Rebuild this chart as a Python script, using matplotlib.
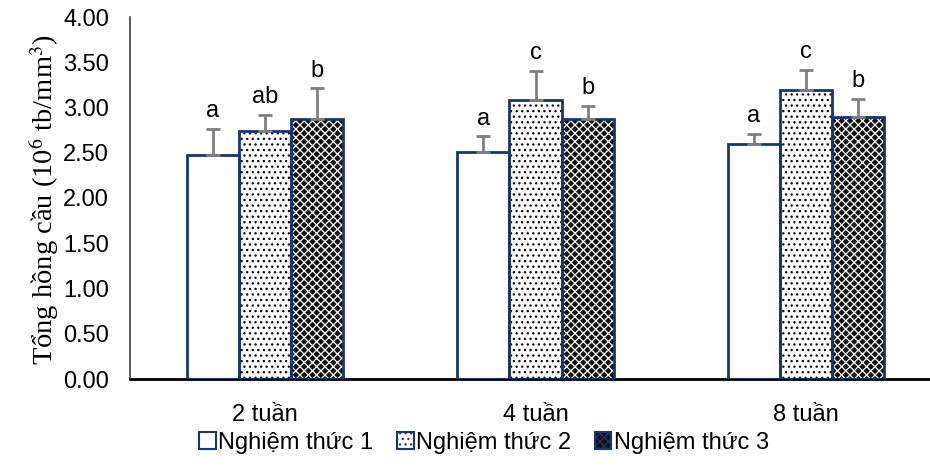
import matplotlib
matplotlib.use("Agg")
import matplotlib.pyplot as plt
import numpy as np
from matplotlib.patches import Patch

plt.rcParams['font.family'] = ['Liberation Sans', 'DejaVu Sans']
plt.rcParams['mathtext.fontset'] = 'stix'

categories = ["2 tuần", "4 tuần", "8 tuần"]
series = ["Nghiệm thức 1", "Nghiệm thức 2", "Nghiệm thức 3"]
means1 = [2.48, 2.51, 2.60]
errs1 = [0.28, 0.17, 0.11]
means2 = [2.74, 3.08, 3.19]
errs2 = [0.18, 0.32, 0.22]
means3 = [2.87, 2.87, 2.90]
errs3 = [0.34, 0.15, 0.19]
letters1 = ["a", "a", "a"]
letters2 = ["ab", "c", "c"]
letters3 = ["b", "b", "b"]
yticks = [0.0, 0.5, 1.0, 1.5, 2.0, 2.5, 3.0, 3.5, 4.0]

navy = "#1B3470"
errc = "#7F7F7F"
fs = 17

fig = plt.figure(figsize=(9.3, 4.7), dpi=100)
ax = fig.add_axes([130/930, (470-379)/470, 811/930, 362/470])

x = np.arange(len(categories))
w = 0.193
styles = [
    dict(face="white", hatch=None, hcol="black"),
    dict(face="white", hatch="...", hcol="black"),
    dict(face="#111111", hatch="xxxx", hcol="white"),
]
data = [(means1, errs1, letters1), (means2, errs2, letters2), (means3, errs3, letters3)]
plt.rcParams['hatch.linewidth'] = 0.9
handles = []
for i, ((m, e, lab), st) in enumerate(zip(data, styles)):
    pos = x + (i - 1) * w
    ax.bar(pos, m, width=w, color=st["face"], edgecolor=st["hcol"], linewidth=0,
           hatch=st["hatch"], zorder=2)
    ax.bar(pos, m, width=w, facecolor="none", edgecolor=navy, linewidth=2, zorder=3)
    ax.errorbar(pos, m, yerr=[np.zeros(len(e)), e], fmt="none", ecolor=errc,
                elinewidth=2, capsize=5, capthick=2, zorder=4)
    for p, mv, ev, t in zip(pos, m, e, lab):
        ax.annotate(t, (p, mv + ev), xytext=(0, 5), textcoords="offset points",
                    ha="center", va="bottom", fontsize=fs, color="black")
    handles.append(Patch(facecolor=st["face"], edgecolor=navy, hatch=st["hatch"],
                         linewidth=1.5, label=series[i]))

ax.set_xlim(-0.5, 2.5)
ax.set_ylim(0, 4.0)
ax.set_yticks(yticks)
ax.set_yticklabels([f"{v:.2f}" for v in yticks])
ax.set_xticks(x)
ax.set_xticklabels(categories)
ax.tick_params(axis="both", length=0, labelsize=fs)
ax.tick_params(axis="y", pad=15)
ax.tick_params(axis="x", pad=18)
for s in ["top", "right"]:
    ax.spines[s].set_visible(False)
ax.spines["left"].set_color("#404040")
ax.spines["left"].set_linewidth(1.2)
ax.spines["bottom"].set_color("black")
ax.spines["bottom"].set_linewidth(2)

fig.text(44/930, (470-200)/470, "Tổng hồng cầu (10$^{6}$ tb/mm$^{3}$)", rotation=90,
         ha="center", va="center", fontsize=20.5, family=["Liberation Serif", "DejaVu Serif"])

leg = fig.legend(handles=handles, loc="center", bbox_to_anchor=(484/930, (470-443)/470),
                 ncol=3, frameon=False, fontsize=fs, handlelength=0.7, handleheight=0.7,
                 handletextpad=0.1, columnspacing=1.0)

fig.savefig("out.png", dpi=100)
